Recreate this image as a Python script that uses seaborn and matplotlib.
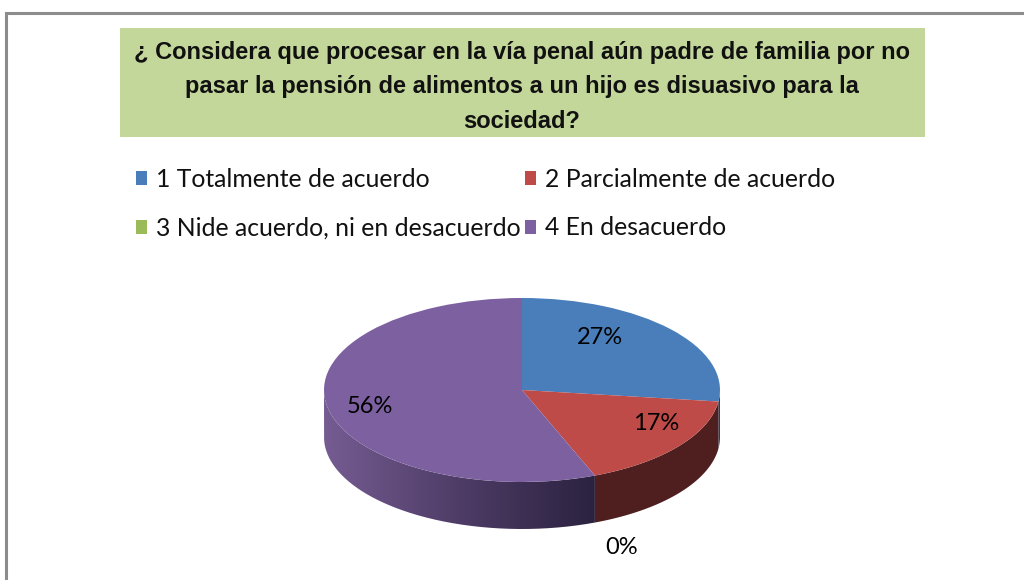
import numpy as np
import matplotlib
matplotlib.use("Agg")
import matplotlib.pyplot as plt
import seaborn as sns
from matplotlib.patches import Rectangle, PathPatch, Polygon
from matplotlib.lines import Line2D
from matplotlib.path import Path
from matplotlib.colors import LinearSegmentedColormap

# ---- data ----
title = ("¿ Considera que procesar en la vía penal aún padre de familia por no\n"
         "pasar la pensión de alimentos a un hijo es disuasivo para la\n"
         "sociedad?")
categories = ["1 Totalmente de acuerdo", "2 Parcialmente de acuerdo",
              "3 Nide acuerdo, ni en desacuerdo", "4 En desacuerdo"]
values = [27, 17, 0, 56]

top_colors = ["#4a7ebb", "#be4b48", "#9bbb59", "#7d60a0"]
side_colors = ["#263f5e", "#4f1f1f", "#4a5e2c", "#5a4575"]

sns.set_theme(style="white")
plt.rcParams["font.family"] = ["Lato", "DejaVu Sans"]

W, H = 1024, 580
fig = plt.figure(figsize=(W / 100, H / 100), dpi=100)
fig.patch.set_facecolor("white")

def fx(px):
    return px / W

def fy(py):
    return 1 - py / H

# outer frame (left and top edges visible)
fig.add_artist(Line2D([fx(6), fx(6), fx(1030)], [fy(600), fy(13), fy(13)],
                      transform=fig.transFigure, color="#8c8c8c", linewidth=2.2,
                      solid_joinstyle="miter"))

# title box
fig.add_artist(Rectangle((fx(120), fy(137)), fx(925 - 120), (137 - 28) / H,
                         transform=fig.transFigure, facecolor="#c4d79b",
                         edgecolor="none"))
fig.text(fx(522), fy(87), title, ha="center", va="center", fontsize=17,
         fontweight="bold", linespacing=1.62,
         family=["Liberation Sans Narrow", "Liberation Sans", "DejaVu Sans"],
         color="#111111")

# pie axes: center (522, 390), a = 198 px, b = 92 px
cx, cy, a, b = 522, 390, 198, 92
left_px, right_px, top_px, bot_px = 302, 742, 280, 560
ax = fig.add_axes([fx(left_px), fy(bot_px), (right_px - left_px) / W,
                   (bot_px - top_px) / H])

depth = 47 / b  # side depth in y units

wedges, _ = ax.pie(values, colors=top_colors, startangle=90, counterclock=False,
                   radius=1, wedgeprops=dict(linewidth=0))
for w in wedges:
    w.set_zorder(3)

# side walls (visible front half) from slice angles
cum = np.concatenate([[0], np.cumsum(values)]) / np.sum(values) * 360.0
purple_cmap = LinearSegmentedColormap.from_list("pside", ["#755c92", "#4e3c66", "#2b2240"])
for i, v in enumerate(values):
    s, e = cum[i], cum[i + 1]
    s2, e2 = max(s, 90), min(e, 270)
    if e2 <= s2:
        continue
    phi = np.linspace(s2, e2, 200)
    t = np.deg2rad(90 - phi)
    xs, ys = np.cos(t), np.sin(t)
    verts = np.concatenate([np.column_stack([xs, ys]),
                            np.column_stack([xs[::-1], ys[::-1] - depth])])
    if i == 3:
        patch = PathPatch(Path(verts, closed=False), facecolor="none",
                          edgecolor="none", transform=ax.transData)
        ax.add_patch(patch)
        grad = np.linspace(0, 1, 256).reshape(1, -1)
        im = ax.imshow(grad, cmap=purple_cmap,
                       extent=(-1, np.cos(np.deg2rad(90 - s)), -1 - depth, 0.2),
                       aspect="auto", zorder=2)
        im.set_clip_path(patch)
    else:
        ax.add_patch(Polygon(verts, closed=True, facecolor=side_colors[i],
                             edgecolor="none", zorder=2))

ax.set_aspect("auto")
ax.set_xlim((left_px - cx) / a, (right_px - cx) / a)
ax.set_ylim(-(bot_px - cy) / b, (cy - top_px) / b)
ax.axis("off")

# percentage labels
label_pos = [(600, 337), (656, 423), (622, 548), (370, 406)]
for v, (px, py) in zip(values, label_pos):
    ax.text((px - cx) / a, -(py - cy) / b, f"{v}%", ha="center", va="center",
            fontsize=17, color="black", zorder=5)

# legend (rows: 1,2 / 3,4)
order = [0, 2, 1, 3]
leg = fig.legend([wedges[i] for i in order], [categories[i] for i in order],
                 ncol=2, loc="upper left", bbox_to_anchor=(fx(136), fy(168)),
                 frameon=False, fontsize=17.8, handlelength=0.45, handleheight=0.5,
                 handletextpad=0.35, columnspacing=0.2, labelspacing=1.03,
                 borderaxespad=0, borderpad=0)
for t in leg.get_texts():
    t.set_color("#111111")

fig.savefig("out.png", dpi=100, facecolor="white")
